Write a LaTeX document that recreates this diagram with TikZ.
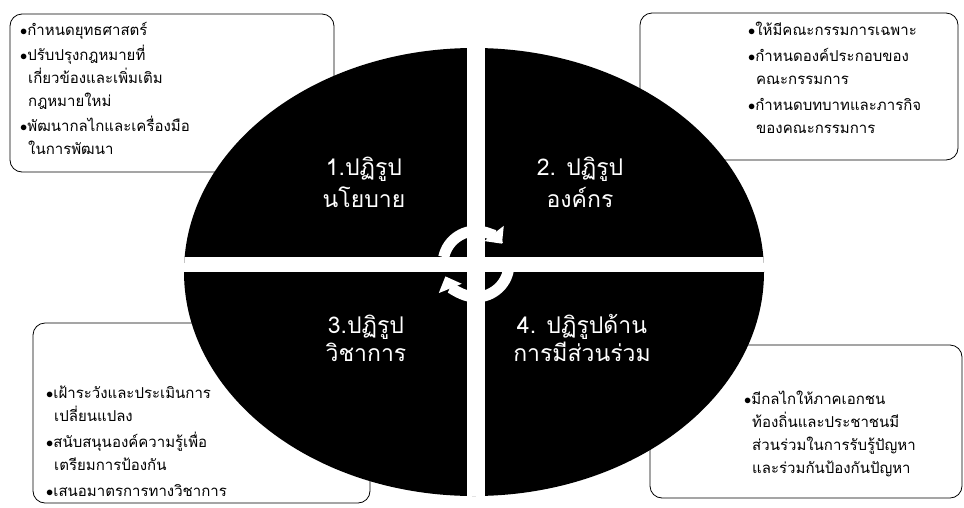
\documentclass[tikz,border=0pt]{standalone}
\usepackage{fontspec}
\newfontfamily\thaifont[Script=Thai]{Loma}
\usetikzlibrary{arrows.meta, positioning, calc}

\begin{document}
\begin{tikzpicture}[x=1pt, y=-1pt,
    listbox/.style={draw, thick, rounded corners=12pt, fill=white},
    listtext/.style={anchor=north west, align=left, inner sep=0pt, font=\thaifont\fontsize{15}{23}\selectfont},
    quadlabel/.style={text=white, align=center, font=\thaifont\fontsize{23}{32}\selectfont},
    cyclearrow/.style={white, line width=11pt, -{Triangle[width=24pt,length=13pt]}}]
  \useasboundingbox (0,0) rectangle (964,507);
  % boxes behind the oval
  \draw[listbox] (10,14) rectangle (334,172);
  \draw[listbox] (640,13) rectangle (958,160);
  \draw[listbox] (33,323) rectangle (370,503);
  \draw[listbox] (650,345) rectangle (962,498);
  \node[listtext] (policyList) at (20,22) {$\bullet$กำหนดยุทธศาสตร์\\[2pt]
    $\bullet$ปรับปรุงกฎหมายที่\\ \hspace*{8pt}เกี่ยวข้องและเพิ่มเติม\\ \hspace*{8pt}กฎหมายใหม่\\[2pt]
    $\bullet$พัฒนากลไกและเครื่องมือ\\ \hspace*{8pt}ในการพัฒนา};
  \node[listtext] (orgList) at (748,22) {$\bullet$ให้มีคณะกรรมการเฉพาะ\\[3pt]
    $\bullet$กำหนดองค์ประกอบของ\\ \hspace*{8pt}คณะกรรมการ\\[3pt]
    $\bullet$กำหนดบทบาทและภารกิจ\\ \hspace*{8pt}ของคณะกรรมการ};
  \node[listtext] (acadList) at (46,386) {$\bullet$เฝ้าระวังและประเมินการ\\ \hspace*{8pt}เปลี่ยนแปลง\\[3pt]
    $\bullet$สนับสนุนองค์ความรู้เพื่อ\\ \hspace*{8pt}เตรียมการป้องกัน\\[3pt]
    $\bullet$เสนอมาตรการทางวิชาการ};
  \node[listtext] (partList) at (744,391) {$\bullet$มีกลไกให้ภาคเอกชน\\
    \hspace*{8pt}ท้องถิ่นและประชาชนมี\\ \hspace*{8pt}ส่วนร่วมในการรับรู้ปัญหา\\ \hspace*{8pt}และร่วมกันป้องกันปัญหา};
  % the oval cut in four
  \fill[black] (474,272) ellipse [x radius=290, y radius=224];
  \begin{scope}
    \clip (474,272) ellipse [x radius=290, y radius=224];
    \fill[white] (467,0) rectangle (485,507);
    \fill[white] (0,257) rectangle (964,272);
  \end{scope}
  \coordinate (hub) at (476,264);
  \draw[cyclearrow] ($(hub)+(192:33)$) arc[start angle=192, end angle=322, radius=33];
  \draw[cyclearrow] ($(hub)+(12:33)$) arc[start angle=12, end angle=158, radius=33];
  \node[quadlabel] (policy) at (364,182) {1.ปฏิรูป\\นโยบาย};
  \node[quadlabel] (org) at (580,182) {2. ปฏิรูป\\องค์กร};
  \node[quadlabel, font=\thaifont\fontsize{23}{28}\selectfont] (acad) at (366,338) {3.ปฏิรูป\\วิชาการ};
  \node[quadlabel, font=\thaifont\fontsize{23}{28}\selectfont] (part) at (582,338) {4. ปฏิรูปด้าน\\การมีส่วนร่วม};
\end{tikzpicture}
\end{document}
